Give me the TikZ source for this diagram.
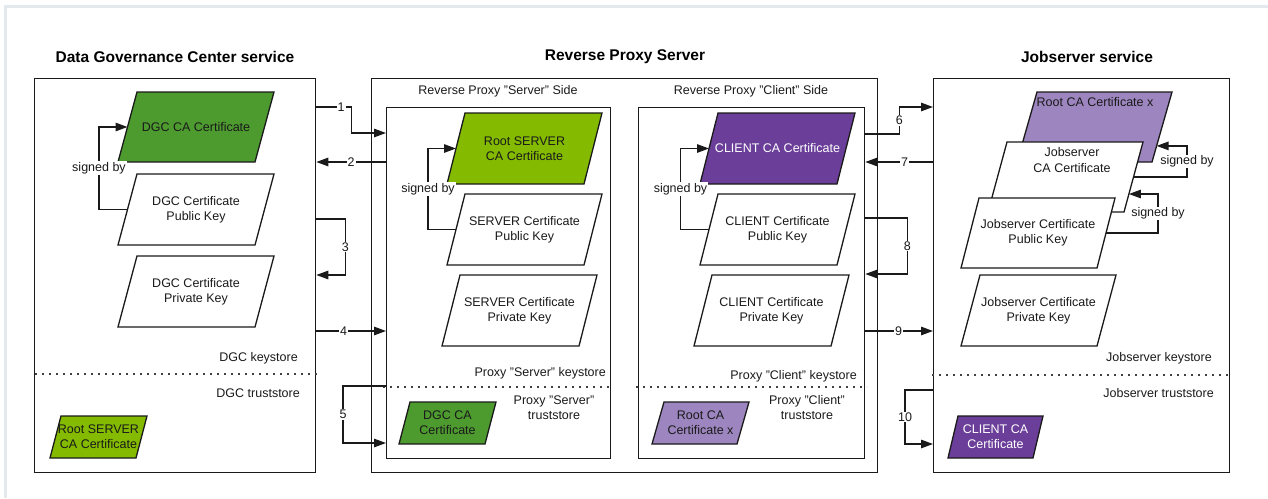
\documentclass[tikz,border=0pt]{standalone}
\usepackage{fontspec}
\setmainfont{Liberation Sans}
\usetikzlibrary{arrows.meta,calc}
\definecolor{dkgreen}{HTML}{4D9A2F}
\definecolor{ltgreen}{HTML}{84BB00}
\definecolor{dkpurple}{HTML}{6B3F99}
\definecolor{ltpurple}{HTML}{9D86C0}
\definecolor{framegray}{HTML}{E4E9EE}
\definecolor{ink}{HTML}{1A1A1A}
% #1 name, #2 x bottom-left, #3 y top, #4 y bottom, #5 width, #6 skew, #7 path style, #8 node options, #9 text
\newcommand\certshape[9]{%
  \coordinate (#1-bl) at (#2,#4);
  \coordinate (#1-br) at (#2+#5,#4);
  \coordinate (#1-tr) at (#2+#5+#6,#3);
  \coordinate (#1-tl) at (#2+#6,#3);
  \coordinate (#1-l) at ($(#1-bl)!0.5!(#1-tl)$);
  \coordinate (#1-r) at ($(#1-br)!0.5!(#1-tr)$);
  \draw[certline,#7] (#1-bl) -- (#1-br) -- (#1-tr) -- (#1-tl) -- cycle;
  \node[certtext,#8] (#1) at ($(#1-bl)!0.5!(#1-tr)$) {#9};
}
\tikzset{
  panel/.style={draw=ink, line width=1.3pt, anchor=north west, inner sep=0pt},
  certline/.style={draw=ink, line width=1.3pt, fill=white},
  certtext/.style={align=center, text=ink, inner sep=0pt},
  lbl/.style={text=ink, inner sep=1pt, align=center},
  title/.style={font=\fontsize{15.5}{18}\selectfont\bfseries, text=black},
  arr/.style={draw=ink, line width=1.3pt, -{Triangle[length=12pt,width=8.5pt]}},
  num/.style={fill=white, text=ink, inner sep=1pt},
  sb/.style={fill=white, text=ink, inner sep=1pt},
  dotline/.style={draw=black!75, line width=1.2pt, dash pattern=on 2pt off 5pt},
}
\begin{document}
\begin{tikzpicture}[x=1pt,y=-1pt,font=\fontsize{12.5}{15.3}\selectfont]
\useasboundingbox (0,0) rectangle (1268,498);
\draw[framegray, line width=3.5pt] (5.5,498) -- (5.5,6.5) -- (1268,6.5);

% titles
\node[title] (t1) at (175,57) {Data Governance Center service};
\node[title] (t2) at (625,57) {Reverse Proxy Server};
\node[title] (t3) at (1087,57) {Jobserver service};

% panels
\node[panel, minimum width=281pt, minimum height=394pt] (dgc) at (34,78) {};
\node[panel, minimum width=506pt, minimum height=394pt] (rps) at (371,78) {};
\node[panel, minimum width=224pt, minimum height=351pt] (srvin) at (386,107) {};
\node[panel, minimum width=226pt, minimum height=351pt] (clin) at (638,107) {};
\node[panel, minimum width=296pt, minimum height=394pt] (job) at (933,78) {};

\node[lbl] (srvside) at (498,91) {Reverse Proxy "Server" Side};
\node[lbl] (clside) at (751,91) {Reverse Proxy "Client" Side};

% DGC
\certshape{dgcca}{118}{92}{162}{137}{19}{fill=dkgreen}{}{DGC CA Certificate}
\certshape{dgcpub}{118}{174}{245}{137}{19}{}{}{DGC Certificate\\Public Key}
\certshape{dgcpriv}{118}{256}{327}{137}{19}{}{}{DGC Certificate\\Private Key}
\certshape{dgcroot}{50}{416}{458}{86}{11}{fill=ltgreen}{}{Root SERVER\\CA Certificate}
\draw[arr] (dgcpub-l) -- ++(-28.5,0) |- node[sb,pos=0.25]{signed by} (dgcca-l);
\node[lbl, anchor=east] (dgcks) at (299,358) {DGC keystore};
\node[lbl, anchor=east] (dgcts) at (301,393) {DGC truststore};
\draw[dotline] (35,374) -- (318,374);

% Server side
\certshape{srvroot}{447}{113}{184}{137}{18}{fill=ltgreen}{}{Root SERVER\\CA Certificate}
\certshape{srvpub}{447}{194}{265}{137}{18}{}{}{SERVER Certificate\\Public Key}
\certshape{srvpriv}{442}{275}{346}{137}{18}{}{}{SERVER Certificate\\Private Key}
\certshape{srvdgc}{399}{402}{444}{86}{11}{fill=dkgreen}{}{DGC CA\\Certificate}
\draw[arr] (srvpub-l) -- ++(-28,0) |- node[sb,pos=0.25]{signed by} (srvroot-l);
\node[lbl, anchor=east] (srvks) at (607,373) {Proxy "Server" keystore};
\node[lbl] (srvts) at (554,407.5) {Proxy "Server"\\truststore};
\draw[dotline] (383,387) -- (613,387);

% Client side
\certshape{clca}{700}{113}{184}{137}{18}{fill=dkpurple}{text=white}{CLIENT CA Certificate}
\certshape{clpub}{700}{194}{265}{137}{18}{}{}{CLIENT Certificate\\Public Key}
\certshape{clpriv}{694}{275}{346}{137}{18}{}{}{CLIENT Certificate\\Private Key}
\certshape{clroot}{652}{402}{444}{85}{12}{fill=ltpurple}{}{Root CA\\Certificate x}
\draw[arr] (clpub-l) -- ++(-28.5,0) |- node[sb,pos=0.25]{signed by} (clca-l);
\node[lbl, anchor=east] (clks) at (858,376) {Proxy "Client" keystore};
\node[lbl] (clts) at (807,407.5) {Proxy "Client"\\truststore};
\draw[dotline] (636,387) -- (867,387);

% Jobserver
\certshape{jroot}{1017}{92}{162}{135}{20}{fill=ltpurple}{}{}
\node[certtext] (jroott) at (1095,102) {Root CA Certificate x};
\certshape{jca}{988}{142}{212}{136}{19}{}{}{}
\node[certtext] (jcat) at (1072,160) {Jobserver\\CA Certificate};
\certshape{jpub}{961}{198}{268}{136}{18}{}{}{Jobserver Certificate\\Public Key}
\certshape{jpriv}{961}{275}{346}{136}{19}{}{}{Jobserver Certificate\\Private Key}
\certshape{jclient}{948}{416}{458}{85}{10}{fill=dkpurple}{text=white}{CLIENT CA\\Certificate}
\draw[arr] (jca-r) -- ++(53.5,0) |- node[sb,pos=0.25]{signed by} ($(jroot-tr)!0.77!(jroot-br)$);
\draw[arr] (jpub-r) -- ++(52,0) |- node[sb,pos=0.25]{signed by} ($(jca-tr)!0.743!(jca-br)$);
\node[lbl, anchor=east] (jks) at (1213,358) {Jobserver keystore};
\node[lbl, anchor=east] (jts) at (1215,393) {Jobserver truststore};
\draw[dotline] (932,375) -- (1232,375);

% numbered connectors
\draw[arr] ($(dgc.north east)+(0,29)$) -- node[num,pos=0.71]{1} ++(35,0) |- ($(srvin.north west)+(0,26)$);
\draw[arr] ($(srvin.north west)+(0,55)$) -- node[num]{2} ($(dgc.north east)+(0,84)$);
\draw[arr] ($(dgc.north east)+(0,141)$) -- ++(29,0) |- node[num,pos=0.25]{3} ($(dgc.north east)+(0,197)$);
\draw[arr] ($(dgc.north east)+(0,253)$) -- node[num,pos=0.39]{4} ($(srvin.north west)+(0,224)$);
\draw[arr] ($(srvin.north west)+(0,279)$) -- ++(-43,0) |- node[num,pos=0.25]{5} ($(srvin.north west)+(0,336)$);
\draw[arr] ($(clin.north east)+(0,27)$) -- ++(34,0) |- node[num,pos=0.25]{6} ($(job.north west)+(0,29)$);
\draw[arr] ($(job.north west)+(0,84)$) -- node[num,pos=0.42]{7} ($(clin.north east)+(0,55)$);
\draw[arr] ($(clin.north east)+(0,111)$) -- ++(42,0) |- node[num,pos=0.25]{8} ($(clin.north east)+(0,167)$);
\draw[arr] ($(clin.north east)+(0,224)$) -- node[num,pos=0.49]{9} ($(job.north west)+(0,253)$);
\draw[arr] ($(job.north west)+(0,312)$) -- ++(-28,0) |- node[num,pos=0.25]{10} ($(job.north west)+(0,366)$);
\end{tikzpicture}
\end{document}
